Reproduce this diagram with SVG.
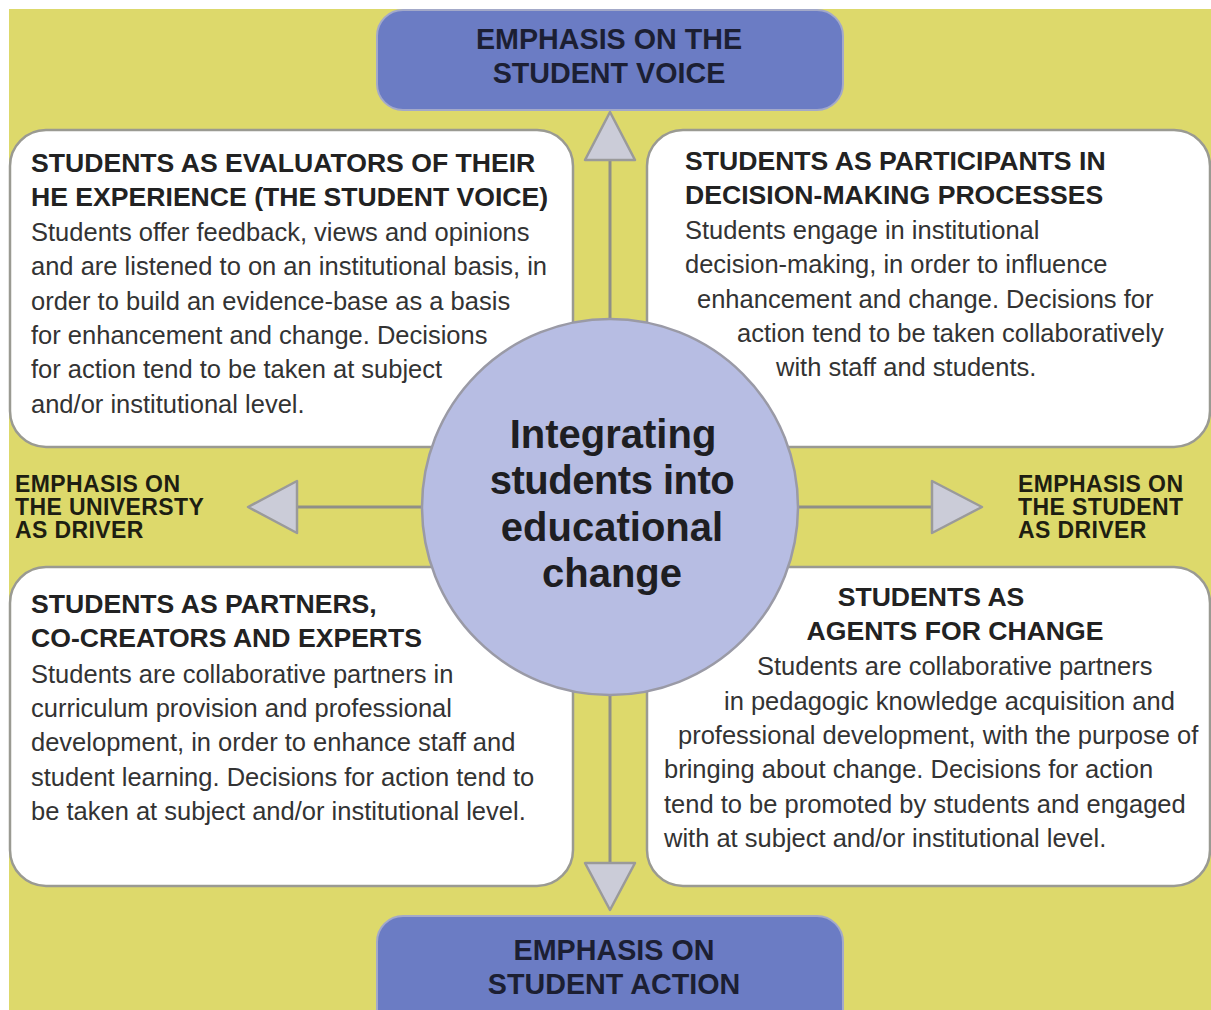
<svg xmlns="http://www.w3.org/2000/svg" width="1211" height="1010" viewBox="0 0 1211 1010">
  <style>
    .bg { fill: #ddd96b; }
    .panel { fill: #ffffff; stroke: #9a9a92; stroke-width: 2.5; }
    .emph { fill: #6b7cc4; stroke: #a3a9c9; stroke-width: 2; }
    .hub { fill: #b7bde3; stroke: #9a9aa6; stroke-width: 2.5; }
    .link { stroke: #8f8f88; stroke-width: 3; fill: none; }
    .head { fill: #cbccd8; stroke: #9a9a9a; stroke-width: 2.5; stroke-linejoin: round; }
    text { font-family: "Liberation Sans", Arial, sans-serif; fill: #222; }
    .h { font-size: 26.6px; font-weight: bold; }
    .b { font-size: 25.5px; fill: #333; }
    .e { font-size: 28.7px; font-weight: bold; fill: #1c1f33; }
    .s { font-size: 23px; font-weight: bold; fill: #1e1e12; letter-spacing: 0.4px; }
    .c { font-size: 40px; font-weight: bold; fill: #1e1e22; text-anchor: middle; }
    .mid { text-anchor: middle; }
  </style>

  <rect x="0" y="0" width="1211" height="1010" fill="#ffffff"/>
  <rect class="bg" x="9" y="9" width="1202" height="1001"/>

  <!-- quadrant panels -->
  <g id="evaluators">
    <rect class="panel" x="10" y="130" width="563" height="317" rx="36"/>
    <text class="h" x="31" y="172">STUDENTS AS EVALUATORS OF THEIR</text>
    <text class="h" x="31" y="206">HE EXPERIENCE (THE STUDENT VOICE)</text>
    <text class="b" x="31" y="241">Students offer feedback, views and opinions</text>
    <text class="b" x="31" y="275">and are listened to on an institutional basis, in</text>
    <text class="b" x="31" y="310">order to build an evidence-base as a basis</text>
    <text class="b" x="31" y="344">for enhancement and change. Decisions</text>
    <text class="b" x="31" y="378">for action tend to be taken at subject</text>
    <text class="b" x="31" y="413">and/or institutional level.</text>
  </g>

  <g id="participants">
    <rect class="panel" x="647" y="130" width="563" height="317" rx="36"/>
    <text class="h" x="685" y="170">STUDENTS AS PARTICIPANTS IN</text>
    <text class="h" x="685" y="204">DECISION-MAKING PROCESSES</text>
    <text class="b" x="685" y="239">Students engage in institutional</text>
    <text class="b" x="685" y="273">decision-making, in order to influence</text>
    <text class="b" x="697" y="308">enhancement and change. Decisions for</text>
    <text class="b" x="737" y="342">action tend to be taken collaboratively</text>
    <text class="b" x="776" y="376">with staff and students.</text>
  </g>

  <g id="partners">
    <rect class="panel" x="10" y="567" width="563" height="319" rx="36"/>
    <text class="h" x="31" y="613">STUDENTS AS PARTNERS,</text>
    <text class="h" x="31" y="647">CO-CREATORS AND EXPERTS</text>
    <text class="b" x="31" y="683">Students are collaborative partners in</text>
    <text class="b" x="31" y="717">curriculum provision and professional</text>
    <text class="b" x="31" y="751">development, in order to enhance staff and</text>
    <text class="b" x="31" y="786">student learning. Decisions for action tend to</text>
    <text class="b" x="31" y="820">be taken at subject and/or institutional level.</text>
  </g>

  <g id="agents">
    <rect class="panel" x="647" y="567" width="563" height="319" rx="36"/>
    <text class="h mid" x="931" y="606">STUDENTS AS</text>
    <text class="h mid" x="955" y="640">AGENTS FOR CHANGE</text>
    <text class="b" x="757" y="675">Students are collaborative partners</text>
    <text class="b" x="724" y="710">in pedagogic knowledge acquisition and</text>
    <text class="b" x="678" y="744">professional development, with the purpose of</text>
    <text class="b" x="664" y="778">bringing about change. Decisions for action</text>
    <text class="b" x="664" y="813">tend to be promoted by students and engaged</text>
    <text class="b" x="664" y="847">with at subject and/or institutional level.</text>
  </g>

  <!-- axis end labels -->
  <g id="student-voice">
    <rect class="emph" x="377" y="10" width="466" height="100" rx="26"/>
    <text class="e mid" x="609" y="49">EMPHASIS ON THE</text>
    <text class="e mid" x="609" y="83">STUDENT VOICE</text>
  </g>

  <g id="student-action">
    <rect class="emph" x="377" y="916" width="466" height="120" rx="26"/>
    <text class="e mid" x="614" y="960">EMPHASIS ON</text>
    <text class="e mid" x="614" y="994">STUDENT ACTION</text>
  </g>

  <g id="university-driver">
    <text class="s" x="15" y="492">EMPHASIS ON</text>
    <text class="s" x="15" y="515">THE UNIVERSTY</text>
    <text class="s" x="15" y="538">AS DRIVER</text>
  </g>

  <g id="student-driver">
    <text class="s" x="1018" y="492">EMPHASIS ON</text>
    <text class="s" x="1018" y="515">THE STUDENT</text>
    <text class="s" x="1018" y="538">AS DRIVER</text>
  </g>

  <!-- arrows from the hub -->
  <g id="connectors">
    <line class="link" x1="610" y1="320" x2="610" y2="160"/>
    <polygon class="head" points="610,112 585,160 635,160"/>
    <line class="link" x1="610" y1="694" x2="610" y2="863"/>
    <polygon class="head" points="610,910 585,863 635,863"/>
    <line class="link" x1="423" y1="507" x2="297" y2="507"/>
    <polygon class="head" points="248,507 297,481 297,533"/>
    <line class="link" x1="797" y1="507" x2="932" y2="507"/>
    <polygon class="head" points="982,507 932,481 932,533"/>
  </g>

  <g id="hub">
    <circle class="hub" cx="610" cy="507" r="188"/>
    <text class="c" x="613" y="448">Integrating</text>
    <text class="c" x="612" y="494" letter-spacing="-0.5">students into</text>
    <text class="c" x="612" y="541">educational</text>
    <text class="c" x="612" y="587">change</text>
  </g>
</svg>
